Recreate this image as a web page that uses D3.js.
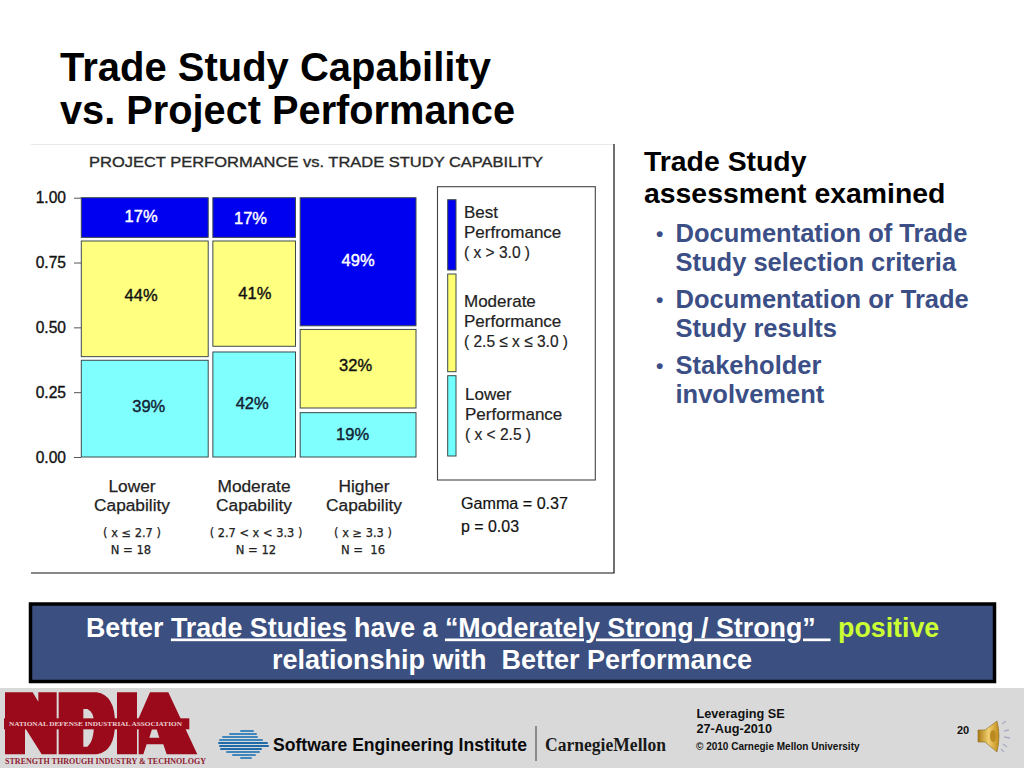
<!DOCTYPE html>
<html><head><meta charset="utf-8">
<script src="https://cdn.jsdelivr.net/npm/d3@7"></script>
<style>
html,body{margin:0;padding:0;background:#fff;overflow:hidden}
svg{display:block;font-family:"Liberation Sans",Arial,sans-serif}
text{white-space:pre}
</style></head><body>
<svg id="c" width="1024" height="768"></svg>
<script>
// ---------- data ----------
const capabilityNames = ["Lower", "Moderate", "Higher"];
const capabilityRanges = ["( x ≤ 2.7 )", "( 2.7 < x < 3.3 )", "( x ≥ 3.3 )"];
const sampleSizes = ["N = 18", "N = 12", "N =  16"];
const columnShares = [0.390, 0.254, 0.356];
const lowerTop = [0.373, 0.405, 0.171];
const moderateBottom = [0.387, 0.427, 0.189];
const moderateTop = [0.833, 0.833, 0.492];
const bestBottom = [0.847, 0.847, 0.506];
const bestTop = [1, 1, 1];
const lowerPct = [39, 42, 19];
const moderatePct = [44, 41, 32];
const bestPct = [17, 17, 49];
const yTicks = [0, 0.25, 0.5, 0.75, 1];
const legendNames = [["Best","Perfromance","( x > 3.0 )"],["Moderate","Performance","( 2.5 ≤ x ≤ 3.0 )"],["Lower","Performance","( x < 2.5 )"]];
const bullets = [["Documentation of Trade","Study selection criteria"],["Documentation or Trade","Study results"],["Stakeholder","involvement"]];

// ---------- layout ----------
const svg = d3.select("#c");
const BLUE="#0000f0", YEL="#ffff80", CYA="#80ffff", EDGE="#3c4a4a";
const txt=(g,x,y,s,size,o={})=>{const t=g.append("text").attr("x",x).attr("y",y).attr("font-size",size).text(s);
  for(const k in o) t.attr(k,o[k]); return t;};
const fit=w=>({textLength:w,lengthAdjust:"spacingAndGlyphs"});

// slide title
txt(svg,60,81,"Trade Study Capability",40,{"font-weight":"bold",fill:"#000",...fit(431)});
txt(svg,60,124,"vs. Project Performance",40,{"font-weight":"bold",fill:"#000",...fit(455)});

// chart frame
svg.append("line").attr("x1",31).attr("x2",614).attr("y1",144.5).attr("y2",144.5).attr("stroke","#eaeaea");
svg.append("path").attr("d","M31,573H614V144").attr("fill","none").attr("stroke","#111").attr("stroke-width",1.2);
txt(svg,89,167,"PROJECT PERFORMANCE vs. TRADE STUDY CAPABILITY",15,{fill:"#2a2a2a",stroke:"#2a2a2a","stroke-width":0.35,...fit(454)});

// mosaic
const GAP=4.65;
const x=d3.scaleLinear().domain([0,1]).range([81.3,406.7]);
const y=d3.scaleLinear().domain([0,1]).range([457,197.7]);
const axis=d3.axisLeft(y).tickValues(yTicks).tickFormat(d3.format(".2f")).tickSize(7).tickPadding(8);
const ag=svg.append("g").attr("transform","translate(81,0)").call(axis);
ag.select(".domain").remove();
ag.selectAll("line").attr("stroke","#555");
ag.selectAll("text").attr("font-size",15.6).attr("font-family","Liberation Sans").attr("fill","#111").attr("stroke","#111").attr("stroke-width",0.35);

const cum=d3.cumsum(columnShares);
const left=i=>x(i?cum[i-1]:0)+GAP*i, right=i=>x(cum[i])+GAP*i;
const segments=[
  {bot:()=>0,top:i=>lowerTop[i],pct:lowerPct,fill:CYA,ink:"#123",
   nudge:[[4,-2],[-2,-1],[-5.5,0]]},
  {bot:i=>moderateBottom[i],top:i=>moderateTop[i],pct:moderatePct,fill:YEL,ink:"#111",
   nudge:[[-3.7,-3],[0.7,-0.5],[-2.5,-3]]},
  {bot:i=>bestBottom[i],top:i=>bestTop[i],pct:bestPct,fill:BLUE,ink:"#fff",
   nudge:[[-3.7,-1],[-3.7,1],[0,-1]]}
];
const bars=svg.append("g"), labels=svg.append("g");
segments.forEach(s=>{
  capabilityNames.forEach((_,i)=>{
    const yt=y(s.top(i)), yb=y(s.bot(i));
    bars.append("rect").attr("x",left(i)).attr("y",yt).attr("width",right(i)-left(i)).attr("height",yb-yt)
      .attr("fill",s.fill).attr("stroke",EDGE).attr("stroke-width",1);
    labels.append("text").attr("x",(left(i)+right(i))/2+s.nudge[i][0]).attr("y",(yt+yb)/2+s.nudge[i][1]+5.6)
      .attr("text-anchor","middle").attr("font-size",16.5).attr("fill",s.ink)
      .attr("stroke",s.ink).attr("stroke-width",0.4).text(s.pct[i]+"%");
  });
});

// column captions
const capX=[132,254,364], rangeX=[132,256,363], nX=[131,256,363];
const cap=svg.append("g").attr("fill","#222");
capabilityNames.forEach((n,i)=>{
  txt(cap,capX[i],491.5,n,17.3,{"text-anchor":"middle",stroke:"#222","stroke-width":0.25});
  txt(cap,capX[i],511,"Capability",17.3,{"text-anchor":"middle",stroke:"#222","stroke-width":0.25});
  txt(cap,rangeX[i],537,capabilityRanges[i],11.4,{"text-anchor":"middle","font-family":"DejaVu Sans",stroke:"#222","stroke-width":0.25});
  txt(cap,nX[i],554,sampleSizes[i],11.6,{"text-anchor":"middle","font-family":"DejaVu Sans",stroke:"#222","stroke-width":0.25});
});

// legend
svg.append("rect").attr("x",437.5).attr("y",186.7).attr("width",157.8).attr("height",293.3).attr("fill","#fff").attr("stroke","#444").attr("stroke-width",1.1);
const swatchEdges=[[199.7,270],[274,371.7],[375.7,456]], swatchFill=[BLUE,"#ffff70","#70ffff"];
swatchEdges.forEach((e,i)=>svg.append("rect").attr("x",447.7).attr("y",e[0]).attr("width",8.3).attr("height",e[1]-e[0]).attr("fill",swatchFill[i]).attr("stroke","#3c4a4a"));
const legY=[217.7,307,400], legX=[464,464,465], legRangeW=[66,104,66];
legendNames.forEach((ls,i)=>ls.forEach((l,j)=>txt(svg,legX[i],legY[i]+j*20.1,l,17,{fill:"#222",stroke:"#222","stroke-width":0.2,...(j==2?fit(legRangeW[i]):{})})));
txt(svg,461,509,"Gamma = 0.37",16,{fill:"#111",stroke:"#111","stroke-width":0.2,...fit(107)});
txt(svg,461,532,"p = 0.03",16,{fill:"#111",stroke:"#111","stroke-width":0.2,...fit(58)});

// right panel
txt(svg,644,170.5,"Trade Study",28.4,{"font-weight":"bold",fill:"#000"});
txt(svg,644,202.5,"assessment examined",28.4,{"font-weight":"bold",fill:"#000"});
const bulletY=[241.7,307.7,373.7];
bullets.forEach((b,i)=>{
  txt(svg,656,bulletY[i]-1,"•",21,{fill:"#3b4f86","font-weight":"bold"});
  b.forEach((l,j)=>txt(svg,675.5,bulletY[i]+j*29.4,l,25.5,{"font-weight":"bold",fill:"#3b4f86"}));
});

// banner
svg.append("rect").attr("x",30.5).attr("y",604).attr("width",964).attr("height",77.5).attr("fill","#3b4f80").attr("stroke","#000").attr("stroke-width",3.5);
const l1=svg.append("text").attr("x",86).attr("y",636.5).attr("font-size",26.8).attr("font-weight","bold").attr("fill","#fff");
l1.append("tspan").text("Better ");
l1.append("tspan").attr("text-decoration","underline").text("Trade Studies");
l1.append("tspan").text(" have a ");
l1.append("tspan").attr("text-decoration","underline").text("“Moderately Strong / Strong”  ");
l1.append("tspan").text(" ");
l1.append("tspan").attr("fill","#ccff33").text("positive");
txt(svg,512,668.5,"relationship with  Better Performance",27,{"font-weight":"bold",fill:"#fff","text-anchor":"middle"});

// footer
svg.append("rect").attr("x",0).attr("y",688).attr("width",1024).attr("height",80).attr("fill","#d9d9d9");
// NDIA logo
const RED="#9b0a1b";
const nd=svg.append("g").attr("transform","translate(0,685) scale(0.3333)").attr("fill",RED);
nd.append("path").attr("d","M15,22H98L115,50V22H170V208H125L75,128V208H15Z");
nd.append("path").attr("fill-rule","evenodd").attr("d","M176,22H290Q345,30 345,115Q345,200 290,208H176Z M250,72H262Q282,80 282,115Q282,170 262,185H250Z");
nd.append("path").attr("d","M351,22H411V208H351Z");
nd.append("path").attr("d","M450,22H505L592,208H500L490,178H440L430,208H416V100Z");
nd.append("path").attr("d","M448,158H478L470,133H456Z").attr("fill","#d9d9d9");
nd.append("rect").attr("x",12).attr("y",100).attr("width",556).attr("height",33);
const serif={"font-family":"Liberation Serif","font-weight":"bold"};
txt(svg,9,725.5,"NATIONAL DEFENSE INDUSTRIAL ASSOCIATION",7,{...serif,fill:"#eccfd0",...fit(173)});
txt(svg,5,763.5,"STRENGTH THROUGH INDUSTRY & TECHNOLOGY",8,{...serif,fill:"#8f2030",...fit(201)});

// SEI mark
const stripeOffsets=[-13,-10,-7,-4,-1,2,5,8,11,14];
const stripeHalf=[6,13,17,21,24,24,20,16,11,5];
const stripeShift=[4,0,-3,-2,0,1,-2,0,1,3];
const sei=svg.append("g").attr("stroke-linecap","round");
stripeOffsets.forEach((o,i)=>sei.append("line").attr("x1",243+stripeShift[i]-stripeHalf[i]).attr("x2",243+stripeShift[i]+stripeHalf[i])
  .attr("y1",744+o).attr("y2",744+o).attr("stroke",i>3&&i<7?"#1f6aa8":"#3f86bd").attr("stroke-width",2));
txt(svg,273,751,"Software Engineering Institute",18.5,{"font-weight":"bold",fill:"#0a0a0a",...fit(254)});
svg.append("line").attr("x1",536).attr("x2",536).attr("y1",726).attr("y2",761).attr("stroke","#555").attr("stroke-width",1.2);
txt(svg,545,751,"CarnegieMellon",18,{...serif,fill:"#1a1a1a",...fit(121)});

// footer text
txt(svg,696.5,717.5,"Leveraging SE",12.7,{"font-weight":"bold",fill:"#111"});
txt(svg,696.5,733,"27-Aug-2010",12.7,{"font-weight":"bold",fill:"#111"});
txt(svg,696,749.5,"© 2010 Carnegie Mellon University",10,{"font-weight":"bold",fill:"#111"});
txt(svg,957,733.5,"20",11,{"font-weight":"bold",fill:"#111"});

// speaker icon
const defs=svg.append("defs");
const lg=defs.append("linearGradient").attr("id","gold").attr("x1",0).attr("x2",1).attr("y1",0).attr("y2",0);
[["0","#a87a10"],["0.5","#f0cf70"],["1","#c08c18"]].forEach(s=>lg.append("stop").attr("offset",s[0]).attr("stop-color",s[1]));
svg.append("path").attr("d","M978,730H985L997,721Q1001,736 997,752L985,742H978Z").attr("fill","url(#gold)").attr("stroke","#8a6a20").attr("stroke-width",0.6);
svg.append("ellipse").attr("cx",993).attr("cy",736).attr("rx",3).attr("ry",6).attr("fill","#b98a20");
[[1002,724,1006,721],[1004,731,1009,730],[1004,737,1010,738],[1003,744,1007,747],[1001,749,1004,752]].forEach(r=>
  svg.append("line").attr("x1",r[0]).attr("y1",r[1]).attr("x2",r[2]).attr("y2",r[3]).attr("stroke","#a9aec6").attr("stroke-width",1.3));
</script>
</body></html>
